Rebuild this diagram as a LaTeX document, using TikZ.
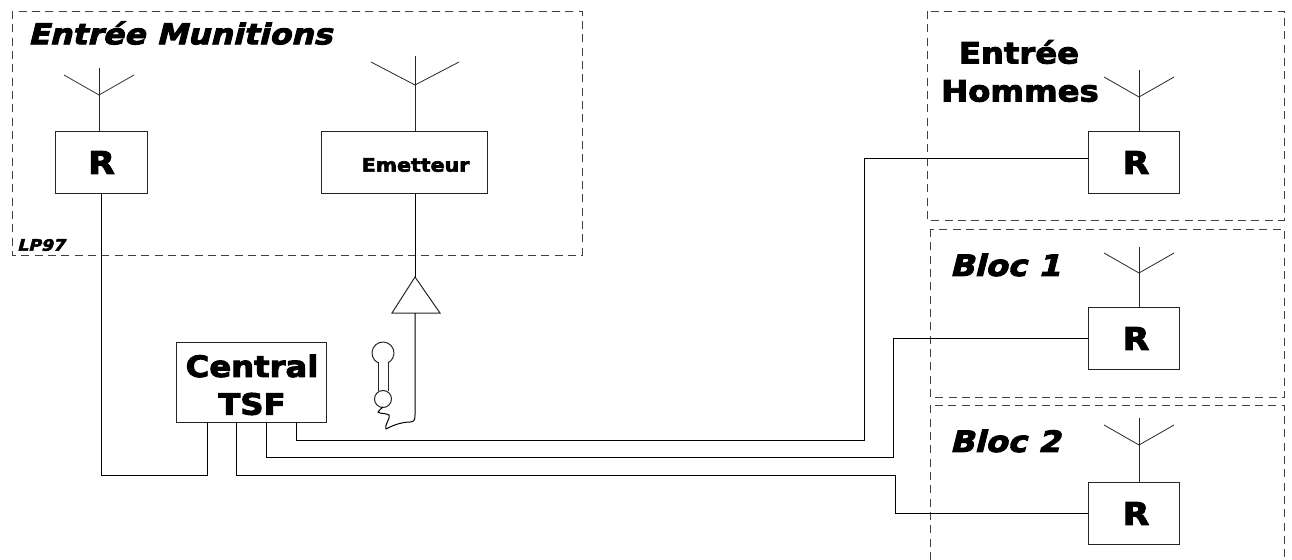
\documentclass[tikz,border=0pt]{standalone}
\usepackage{fontspec}
\newfontfamily\blk[UprightFont=* Bold,FakeBold=3.2,FakeStretch=1.1]{DejaVu Sans}
\newfontfamily\blki[UprightFont=* Bold,FakeBold=3.2,FakeStretch=1.1,FakeSlant=0.25]{DejaVu Sans}
\newcommand{\ttl}[1]{\fontsize{#1}{#1}\selectfont}
\begin{document}
\begin{tikzpicture}[x=0.75pt,y=-0.75pt,line width=0.75pt,
  zone/.style={draw=black!75,dash pattern=on 6pt off 4pt,line width=0.6pt},
  rbox/.style={draw=black!85,fill=white,rectangle,inner sep=0pt,minimum width=68.5pt,minimum height=47pt,font=\blk\ttl{23.5}},
  lab/.style={inner sep=0pt,align=center,anchor=center},
  wire/.style={draw=black,line width=0.75pt},
  ant/.style={draw=black!85,line width=0.6pt}]
\useasboundingbox (0,0) rectangle (1292,560);
% zones
\draw[zone] (12,11) rectangle (582,255);
\draw[zone] (927,11) rectangle (1284,220);
\draw[zone] (930,229) rectangle (1284,397);
\draw[zone] (930,560) -- (930,405) -- (1284,405) -- (1284,560);
% boxes
\node[rbox] (r1) at (101.5,162.5) {R};
\node[rbox,minimum width=125pt] (em) at (404.5,162.5) {};
\node[lab,font=\blk\ttl{14}] (emt) at (415.5,165) {Emetteur};
\node[rbox] (rh) at (1134,162.5) {\hspace*{3pt}R};
\node[rbox] (rb1) at (1134,338.5) {\hspace*{3pt}R};
\node[rbox] (rb2) at (1134,513.5) {\hspace*{3pt}R};
\node[draw=black!85,fill=white,rectangle,inner sep=0pt,minimum width=112.5pt,minimum height=59.5pt] (central) at (251.5,382.5) {};
\node[lab,font=\blk\ttl{22}] (t1) at (252,366) {Central};
\node[lab,font=\blk\ttl{22}] (t2) at (252,404) {TSF};
% titles
\node[lab,font=\blki\ttl{21.5}] (tm) at (180,33) {Entrée Munitions};
\node[lab,font=\blki\ttl{11.8}] (tl) at (41,245) {LP97};
\node[lab,font=\blk\ttl{22}] (th1) at (1019,52) {Entrée};
\node[lab,font=\blk\ttl{22}] (th2) at (1020,91) {Hommes};
\node[lab,font=\blki\ttl{22}] (tb1) at (1005,265) {Bloc 1};
\node[lab,font=\blki\ttl{22}] (tb2) at (1005,441) {Bloc 2};
% antennas
\foreach \n/\x/\t/\v/\a/\d in {r1/99/68/95/75/35, em/415/56/85/62/44, rh/1139/70/97/77/35, rb1/1139/247/273/253/35, rb2/1139/418/445/425/35}{
  \coordinate (\n a) at (\x,\v);
  \draw[ant] (\x,\t) -- (\n a);
  \draw[ant] (\x-\d,\a) -- (\n a) -- (\x+\d,\a);
  \draw[ant] (\n a) -- (\n.north -| \n a);
}
% triangle
\coordinate (ta) at (415,277);
\coordinate (tb) at (415,313);
\draw[draw=black!85] (ta) -- (392,313) -- (440,313) -- cycle;
\draw[wire] (em.south -| ta) -- (ta);
% handset
\coordinate (hs) at (383,353);
\coordinate (hb) at (383,399);
\draw[draw=black!85] (378,362) -- (378,391) (388,362) -- (388,391);
\draw[draw=black!85,fill=white] (hb) circle (8.5);
\draw[draw=black!85] (378,362.8) arc[start angle=117,end angle=423,radius=11];
% cord
\draw[wire] (tb) -- (415,415) .. controls (415,420) and (414,422) .. (410,422)
  .. controls (404,422) and (395,424) .. (386,429)
  .. controls (384,425) and (391,418) .. (389,415)
  .. controls (386,413) and (380,414) .. (378,412)
  .. controls (379,410) and (381,409) .. (383,407);
% wires
\coordinate (c1) at (207,423);
\coordinate (c2) at (236,423);
\coordinate (c3) at (266,423);
\coordinate (c4) at (296,423);
\draw[wire] (r1.south) |- (207,475) -- (c1);
\draw[wire] (c2) |- (895,475) |- (rb2.west);
\draw[wire] (c3) |- (893,457) |- (rb1.west);
\draw[wire] (c4) |- (864,440) |- (rh.west |- 0,158);
\end{tikzpicture}
\end{document}
